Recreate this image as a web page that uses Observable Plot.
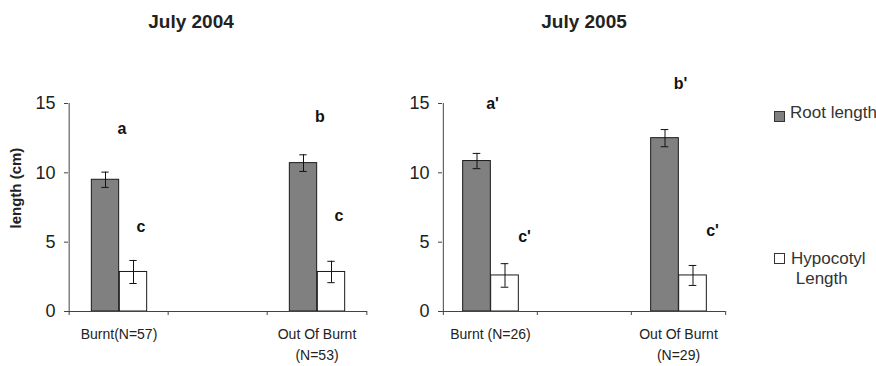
<!DOCTYPE html>
<html><head><meta charset="utf-8">
<script src="https://cdn.jsdelivr.net/npm/d3@7"></script>
<script src="https://cdn.jsdelivr.net/npm/@observablehq/plot@0.6"></script>
<style>
body{margin:0;background:#fff;font-family:"Liberation Sans",Arial,sans-serif;}
#wrap{position:relative;width:876px;height:366px;overflow:hidden;background:#fff;}
.panel{position:absolute;top:0;}
.title{position:absolute;top:11px;font-weight:bold;font-size:19px;transform:translateX(-50%);white-space:nowrap;color:#222;}
.lg{position:absolute;font-size:17px;color:#333;line-height:20px;white-space:nowrap;}
.sw{position:absolute;width:9px;height:9px;border:1px solid #333;}
</style></head><body>
<div id="wrap">
  <div class="panel" id="p2004" style="left:0px"></div>
  <div class="panel" id="p2005" style="left:380px"></div>
  <div class="title" style="left:191px">July 2004</div>
  <div class="title" style="left:584px">July 2005</div>
  <div class="sw" style="left:774px;top:111px;background:#808080"></div>
  <div class="lg" style="left:790px;top:103px">Root length</div>
  <div class="sw" style="left:774px;top:253px;background:#fff"></div>
  <div class="lg" style="left:791px;top:249px">Hypocotyl<br>&nbsp;Length</div>
</div>
<script>
const series = ["Root length", "Hypocotyl Length"];
const yTicks = [0, 5, 10, 15];
const categories2004 = ["Burnt(N=57)", " ", "Out Of Burnt\n(N=53)"];
const categories2005 = ["Burnt (N=26)", " ", "Out Of Burnt\n(N=29)"];
const root2004 = [9.5, 10.7];
const rootErr2004 = [0.55, 0.6];
const hyp2004 = [2.85, 2.85];
const hypErr2004 = [0.83, 0.77];
const root2005 = [10.85, 12.5];
const rootErr2005 = [0.55, 0.62];
const hyp2005 = [2.6, 2.6];
const hypErr2005 = [0.85, 0.72];
const rootLetters2004 = ["a", "b"];
const hypLetters2004 = ["c", "c"];
const rootLetters2005 = ["a'", "b'"];
const hypLetters2005 = ["c'", "c'"];
const rootLetterY2004 = [13.2, 14.0];
const hypLetterY2004 = [6.1, 6.9];
const rootLetterY2005 = [15.0, 16.4];
const hypLetterY2005 = [5.35, 5.85];

function panel(o) {
  const {cats, root, rootErr, hyp, hypErr, rootL, hypL, rootLY, hypLY,
         width, marginLeft, marginRight, ylabel, rootDx, hypDx} = o;
  const height = 366, marginTop = 103, marginBottom = 55;
  const bw = (width - marginLeft - marginRight) / cats.length;
  const barW = 28, shift = 0.5;
  const rows = [0, 2].map((ci, k) => ({
    cat: cats[ci], root: root[k], rootErr: rootErr[k], hyp: hyp[k], hypErr: hypErr[k],
    rootL: rootL[k], hypL: hypL[k], rootLY: rootLY[k], hypLY: hypLY[k]
  }));
  const rc = -barW / 2 + shift, hc = barW / 2 + shift;
  const axisColor = "#444";
  const marks = [
    Plot.barY(rows, {x: "cat", y: "root", fill: "#808080", stroke: "#1a1a1a", strokeWidth: 1,
      insetLeft: bw / 2 - barW + shift, insetRight: bw / 2 - shift}),
    Plot.barY(rows, {x: "cat", y: "hyp", fill: "#fff", stroke: "#1a1a1a", strokeWidth: 1,
      insetLeft: bw / 2 + shift, insetRight: bw / 2 - barW - shift}),
    Plot.ruleX(rows, {x: "cat", y1: d => d.root - d.rootErr, y2: d => d.root + d.rootErr, dx: rc, stroke: "#111"}),
    Plot.tickY(rows, {x: "cat", y: d => d.root + d.rootErr, insetLeft: bw / 2 + rc - 4, insetRight: bw / 2 - rc - 4, stroke: "#111"}),
    Plot.tickY(rows, {x: "cat", y: d => d.root - d.rootErr, insetLeft: bw / 2 + rc - 4, insetRight: bw / 2 - rc - 4, stroke: "#111"}),
    Plot.ruleX(rows, {x: "cat", y1: d => d.hyp - d.hypErr, y2: d => d.hyp + d.hypErr, dx: hc, stroke: "#111"}),
    Plot.tickY(rows, {x: "cat", y: d => d.hyp + d.hypErr, insetLeft: bw / 2 + hc - 4, insetRight: bw / 2 - hc - 4, stroke: "#111"}),
    Plot.tickY(rows, {x: "cat", y: d => d.hyp - d.hypErr, insetLeft: bw / 2 + hc - 4, insetRight: bw / 2 - hc - 4, stroke: "#111"}),
    Plot.text(rows, {x: "cat", y: "rootLY", text: "rootL", dx: rootDx, fontWeight: "bold", fontSize: 16, fill: "#111"}),
    Plot.text(rows, {x: "cat", y: "hypLY", text: "hypL", dx: hypDx, fontWeight: "bold", fontSize: 16, fill: "#111"}),
    // axes
    Plot.ruleY([0], {stroke: axisColor}),
    Plot.ruleX([cats[0]], {x: d => d, dx: -bw / 2, y1: 0, y2: 15, stroke: axisColor}),
    Plot.ruleX(cats, {x: d => d, dx: -bw / 2, y1: 0, y2: 0, insetBottom: -4, stroke: axisColor}),
    Plot.ruleX([cats[cats.length - 1]], {x: d => d, dx: bw / 2, y1: 0, y2: 0, insetBottom: -4, stroke: axisColor}),
    Plot.axisY({ticks: yTicks, tickSize: 4, tickPadding: 9, fontSize: 18, stroke: axisColor, color: "#222", label: null}),
    Plot.axisX({tickSize: 0, tickPadding: 13, fontSize: 14, lineHeight: 1.5, color: "#222", label: null})
  ];
  if (ylabel) marks.push(Plot.text([ylabel], {frameAnchor: "left", rotate: -90, dx: -52, dy: 21,
    fontWeight: "bold", fontSize: 15, fill: "#222"}));
  return Plot.plot({
    width, height, marginTop, marginBottom, marginLeft, marginRight,
    style: {fontFamily: '"Liberation Sans", Arial, sans-serif', background: "transparent", overflow: "visible"},
    x: {domain: cats, padding: 0, axis: null},
    y: {domain: [0, 15], axis: null},
    marks
  });
}

document.getElementById("p2004").append(panel({
  cats: categories2004, root: root2004, rootErr: rootErr2004, hyp: hyp2004, hypErr: hypErr2004,
  rootL: rootLetters2004, hypL: hypLetters2004, rootLY: rootLetterY2004, hypLY: hypLetterY2004,
  width: 380, marginLeft: 68, marginRight: 13, ylabel: "length (cm)", rootDx: 3, hypDx: 22
}));
document.getElementById("p2005").append(panel({
  cats: categories2005, root: root2005, rootErr: rootErr2005, hyp: hyp2005, hypErr: hypErr2005,
  rootL: rootLetters2005, hypL: hypLetters2005, rootLY: rootLetterY2005, hypLY: hypLetterY2005,
  width: 360, marginLeft: 62, marginRight: 15, ylabel: null, rootDx: 2, hypDx: 34
}));
</script>
</body></html>
